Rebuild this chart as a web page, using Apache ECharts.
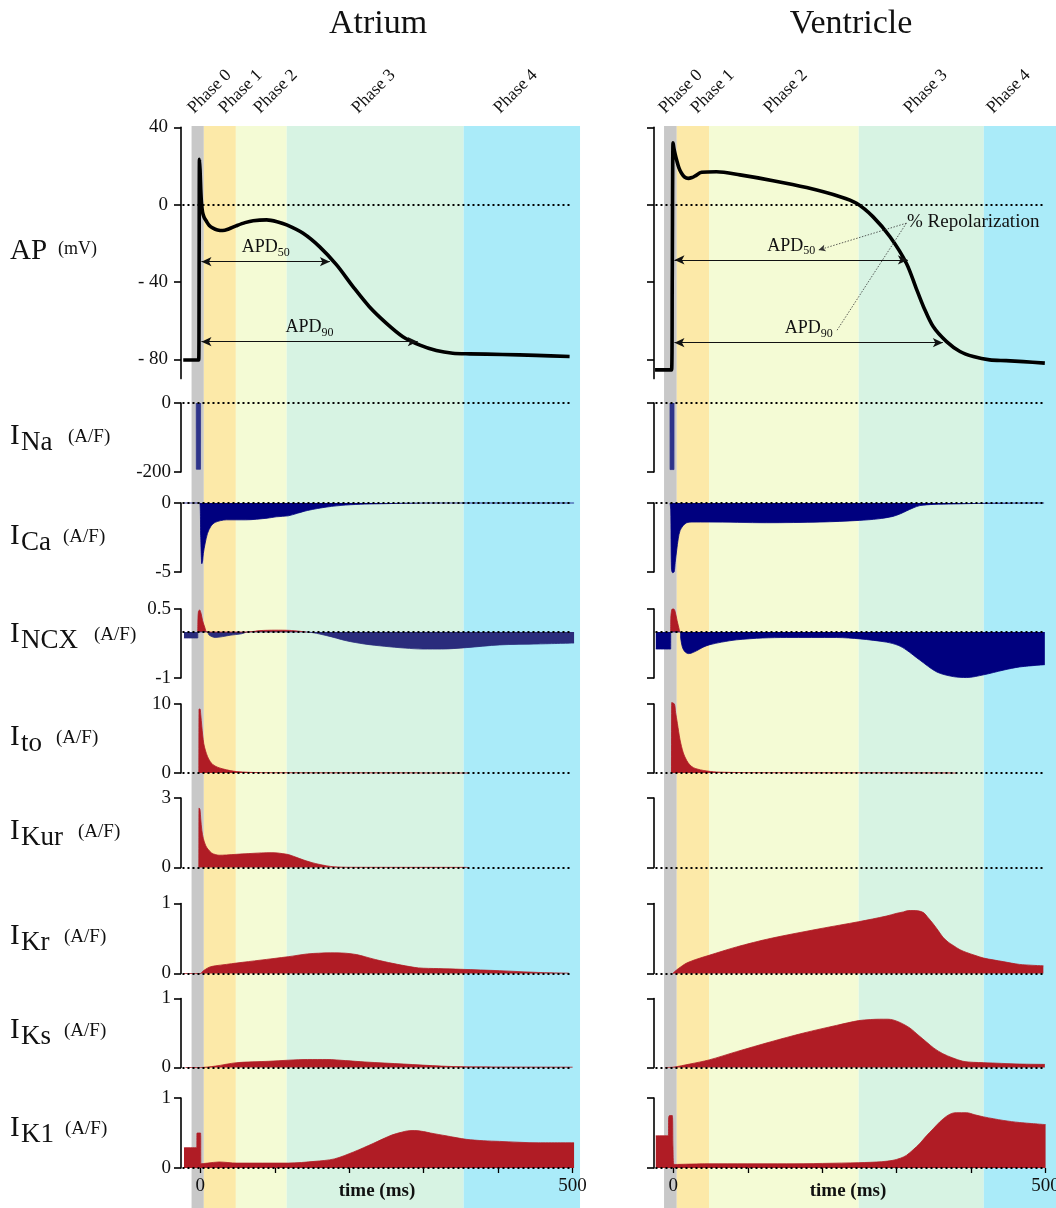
<!DOCTYPE html>
<html>
<head>
<meta charset="utf-8">
<script src="https://cdn.jsdelivr.net/npm/echarts@6/dist/echarts.min.js"></script>
<style>
html, body { margin: 0; padding: 0; background: #fff; }
#main { width: 1056px; height: 1208px; }
</style>
</head>
<body>
<div id="main"></div>
<script>
// 时间轴 (ms)
var xTicks = [0, 100, 200, 300, 400, 500];
var xTickLabels = [0, 500];

// 各期边界 (ms)
var atrPhaseEdges = [-11.8, 4.7, 47.7, 116, 353.7, 510];
var vtrPhaseEdges = [-12.5, 4.6, 47.9, 249, 417, 514];
var phaseNames = ['Phase 0', 'Phase 1', 'Phase 2', 'Phase 3', 'Phase 4'];

// 动作电位 [t, mV]
var atrAP = [[-23, -80.4], [-2.2, -80.4], [-1.7, -40], [-1.2, 23.5], [-0.4, 18], [0.5, 8], [1.6, 0.5], [3, -4], [5, -6.5],
    [8, -8.5], [12, -10.8], [17, -12.2], [23, -13.1], [30, -13.4], [38, -12.6], [48, -11], [60, -9.3], [71, -8.3],
    [89, -7.9], [103, -8.8], [116, -10.5], [138, -14.8], [160, -21.7], [183, -31.2], [205, -42.4], [227, -52.8],
    [250, -61.4], [272, -68.3], [295, -72.7], [317, -75.5], [339, -76.9], [362, -77.2], [406, -77.5], [451, -78], [496, -78.6]];
var vtrAP = [[-24.6, -85.5], [-2.4, -85.5], [-1.5, -40], [-0.4, 32], [0.8, 29], [2.5, 26], [4.5, 23], [7.5, 19], [11, 16.2],
    [15, 14.3], [20, 13.6], [25, 14], [29, 14.8], [38, 16.7], [58, 17], [89.5, 15.4], [134, 12.4], [179, 8.8], [224, 4.1],
    [246, 0.7], [268, -6.2], [291, -16.6], [313, -30.3], [327, -44.1], [336, -52.8], [349, -63.1], [367, -70.9],
    [385, -76], [403, -78.6], [425, -80.3], [447, -80.7], [470, -81.2], [499, -82]];

// 电流 [t, A/F]
var atrINa = [[-5.5, 0], [-5.4, -192], [0.2, -192], [0.3, 0]];
var vtrINa = [[-4.5, 0], [-4.4, -193], [0.8, -193], [0.9, 0]];

var atrICa = [[-23, 0], [-1, 0], [0.5, -2.5], [2, -4.4], [3, -4.2], [4, -3.66], [6.5, -2.9], [9.6, -2.2], [14, -1.7],
    [20, -1.4], [35, -1.22], [61, -1.22], [90, -1.1], [102, -1.0], [118, -0.93], [130, -0.75], [144, -0.54], [170, -0.29],
    [195, -0.15], [221, -0.08], [247, -0.05], [273, -0.02], [320, 0], [502, 0]];
var vtrICa = [[-4.5, 0], [-3.5, -0.5], [-2.5, -4.8], [-1, -5.05], [1, -5.0], [2.5, -4.3], [4.5, -3.4], [6.5, -2.6],
    [9, -2.0], [13, -1.65], [18, -1.43], [25, -1.38], [48, -1.38], [125, -1.43], [197, -1.38], [250, -1.26], [275, -1.15],
    [295, -0.97], [305, -0.78], [313, -0.58], [322, -0.36], [331, -0.19], [350, -0.1], [376, -0.07], [421, -0.02], [498, 0]];

// INCX: 外向(红)与内向(蓝)部分
var atrINCXout = [[-3.5, 0], [-3.2, 0.3], [-2.5, 0.45], [-1, 0.48], [1, 0.4], [3, 0.25], [6, 0.1], [9, 0],
    [64, 0], [80, 0.03], [100, 0.04], [120, 0.035], [142, 0]];
var atrINCXin = [[-22, -0.13], [-3.5, -0.13], [-3.4, 0], [9, 0], [12, -0.07], [20, -0.12], [30, -0.1], [40, -0.07],
    [55, -0.04], [64, 0], [142, 0], [170, -0.08], [196, -0.19], [220, -0.26], [247, -0.31], [275, -0.35], [299, -0.37],
    [324, -0.37], [357, -0.34], [402, -0.28], [454, -0.26], [502, -0.24]];
var vtrINCXout = [[-3.6, 0], [-3.4, 0.3], [-1.5, 0.5], [0.5, 0.5], [2.3, 0.45], [5, 0.25], [8, 0.05], [9, 0]];
var vtrINCXin = [[-23.6, -0.37], [-3.6, -0.37], [-3.5, 0], [9, 0], [10, -0.15], [12, -0.32], [15, -0.42], [20, -0.47],
    [24, -0.46], [31, -0.41], [40, -0.33], [48, -0.28], [65, -0.22], [85, -0.17], [120, -0.13], [152, -0.12], [219, -0.12],
    [251, -0.15], [286, -0.22], [302, -0.29], [313, -0.39], [331, -0.61], [354, -0.87], [376, -0.97], [394, -0.99],
    [417, -0.93], [443, -0.83], [465, -0.76], [499, -0.71]];

var atrIto = [[-2, 0], [-1.8, 9.2], [-0.5, 9.3], [0.5, 8.5], [2, 6.7], [4.5, 4.3], [7, 3.2], [9.6, 2.4], [13, 1.7],
    [17, 1.2], [23, 0.85], [30, 0.6], [40, 0.35], [49, 0.2], [65, 0.1], [82, 0.05], [120, 0.03], [200, 0.02], [300, 0.01], [360, 0]];
var vtrIto = [[-2.5, 0], [-2.2, 10.2], [1.4, 10], [3, 8.8], [5.4, 7.2], [9, 4.8], [13.4, 2.9], [18, 1.8], [22, 1.2],
    [27, 0.77], [33, 0.55], [40, 0.38], [50, 0.22], [58, 0.14], [80, 0.08], [107, 0.05], [200, 0.03], [300, 0.02], [380, 0]];

var atrIKur = [[-2, 0], [-1.8, 2.57], [-0.5, 2.5], [0.5, 2.1], [2, 1.6], [4, 1.25], [7, 0.96], [10, 0.8], [15, 0.63],
    [20, 0.56], [25, 0.53], [35, 0.54], [49, 0.57], [65, 0.6], [82, 0.63], [95, 0.64], [103, 0.63], [110, 0.6],
    [118, 0.56], [128, 0.45], [139, 0.32], [150, 0.21], [159, 0.14], [170, 0.07], [180, 0.03], [200, 0.01], [357, 0.005], [360, 0]];
var vtrIKur = [];

var atrIKr = [[-23, 0], [0, 0], [3, 0.03], [7, 0.06], [12, 0.09], [20, 0.11], [35, 0.13], [49, 0.15], [80, 0.19],
    [118, 0.24], [144, 0.28], [159, 0.29], [175, 0.295], [195, 0.29], [210, 0.27], [221, 0.24], [235, 0.2], [247, 0.17],
    [270, 0.12], [293, 0.08], [320, 0.07], [350, 0.06], [402, 0.04], [454, 0.015], [495, 0.005]];
var vtrIKr = [[-1, 0], [2, 0.03], [6.7, 0.07], [12, 0.11], [18, 0.15], [30, 0.2], [48, 0.26], [85, 0.38], [130, 0.5],
    [197, 0.64], [249, 0.74], [286, 0.82], [300, 0.86], [309, 0.88], [316, 0.9], [322, 0.9], [329, 0.895], [336, 0.87],
    [342, 0.8], [349, 0.71], [356, 0.61], [362, 0.52], [369, 0.45], [376, 0.4], [385, 0.34], [394, 0.3], [405, 0.26],
    [417, 0.22], [443, 0.17], [465, 0.13], [497, 0.11]];

var atrIKs = [[-20, 0], [0, 0], [20, 0.02], [49, 0.07], [92, 0.09], [144, 0.116], [170, 0.116], [195, 0.1], [221, 0.08],
    [273, 0.05], [324, 0.02], [357, 0.01], [500, 0.005]];
var vtrIKs = [[-11, 0], [0, 0.005], [22, 0.05], [48, 0.11], [85, 0.23], [130, 0.37], [175, 0.5], [219, 0.61], [249, 0.68],
    [265, 0.695], [277, 0.7], [288, 0.7], [295, 0.69], [305, 0.65], [318, 0.57], [330, 0.46], [340, 0.37], [350, 0.28],
    [362, 0.2], [375, 0.14], [389, 0.09], [403, 0.075], [417, 0.07], [465, 0.05], [499, 0.045]];

var atrIK1 = [[-22, 0.29], [-4.8, 0.29], [-4.5, 0.5], [0.3, 0.5], [0.8, 0.06], [10, 0.07], [25, 0.086], [49, 0.07],
    [118, 0.07], [154, 0.095], [180, 0.13], [206, 0.23], [232, 0.35], [257, 0.47], [270, 0.51], [278, 0.53], [288, 0.535],
    [300, 0.52], [309, 0.5], [330, 0.46], [357, 0.41], [380, 0.39], [402, 0.38], [454, 0.36], [502, 0.36]];
var vtrIK1 = [[-23.6, 0.46], [-6.7, 0.46], [-6.3, 0.72], [-5, 0.75], [-1.5, 0.75], [-0.5, 0.3], [1, 0.05], [48, 0.06],
    [152, 0.06], [249, 0.076], [280, 0.09], [295, 0.11], [305, 0.14], [313, 0.18], [322, 0.26], [331, 0.35], [340, 0.46],
    [349, 0.56], [358, 0.66], [367, 0.74], [374, 0.78], [380, 0.79], [394, 0.79], [405, 0.76], [417, 0.73], [443, 0.68],
    [465, 0.65], [500, 0.62]];

// APD 标注 [起点t, 终点t, mV]
var atrAPD50 = [1.5, 174, -29.5];
var atrAPD90 = [1.5, 292, -70.9];
var vtrAPD50 = [1.5, 315, -28.6];
var vtrAPD90 = [1.5, 362, -71.4];

// 颜色与字体
var FONT = '"Liberation Serif", "DejaVu Serif", serif';
var RED = '#b01c25';
var NAVY = '#00007f';
var phaseColors = ['#c8c8c8', '#fce9a8', '#f4fbd5', '#d7f3e3', '#aaebf9'];

var X_MIN = -26, X_MAX = 514;
var COLS = [{ left: 181, width: 402 }, { left: 654, width: 402 }];

var rows = [
    { key: 'AP', top: 127.3, height: 251.3, min: -90, max: 40, ticks: [40, 0, -40, -80], tickText: ['40', '0', '- 40', '- 80'], data: [[atrAP], [vtrAP]], color: [['#000'], ['#000']], margin: 13 },
    { key: 'Na', top: 403, height: 69, min: -200, max: 0, ticks: [0, -200], tickText: ['0', '-200'], data: [[atrINa], [vtrINa]], color: [['#2e348a'], ['#2e348a']], sharp: true },
    { key: 'Ca', top: 503, height: 69, min: -5, max: 0, ticks: [0, -5], tickText: ['0', '-5'], data: [[atrICa], [vtrICa]], color: [[NAVY], [NAVY]] },
    { key: 'NCX', top: 609, height: 69, min: -1, max: 0.5, ticks: [0.5, -1], tickText: ['0.5', '-1'], data: [[atrINCXin, atrINCXout], [vtrINCXin, vtrINCXout]], color: [['#2a2c7c', RED], [NAVY, RED]] },
    { key: 'to', top: 704, height: 69, min: 0, max: 10, ticks: [10, 0], tickText: ['10', '0'], data: [[atrIto], [vtrIto]], color: [[RED], [RED]] },
    { key: 'Kur', top: 798, height: 69.5, min: 0, max: 3, ticks: [3, 0], tickText: ['3', '0'], data: [[atrIKur], [vtrIKur]], color: [[RED], [RED]] },
    { key: 'Kr', top: 903.5, height: 70, min: 0, max: 1, ticks: [1, 0], tickText: ['1', '0'], data: [[atrIKr], [vtrIKr]], color: [[RED], [RED]] },
    { key: 'Ks', top: 998.5, height: 69, min: 0, max: 1, ticks: [1, 0], tickText: ['1', '0'], data: [[atrIKs], [vtrIKs]], color: [[RED], [RED]] },
    { key: 'K1', top: 1098, height: 70, min: 0, max: 1, ticks: [1, 0], tickText: ['1', '0'], data: [[atrIK1], [vtrIK1]], color: [[RED], [RED]] }
];

var grids = [], xAxes = [], yAxes = [], series = [], graphics = [];

// 背景相位色带
[atrPhaseEdges, vtrPhaseEdges].forEach(function (edges, ci) {
    grids.push({ left: COLS[ci].left, width: COLS[ci].width, top: 126, height: 1082, outerBoundsMode: 'none' });
    xAxes.push({ type: 'value', gridIndex: ci, min: X_MIN, max: X_MAX, show: false });
    yAxes.push({ type: 'value', gridIndex: ci, min: 0, max: 1, show: false });
    var areas = [];
    for (var i = 0; i < phaseColors.length; i++) {
        areas.push([{ xAxis: edges[i], itemStyle: { color: phaseColors[i], opacity: 1 } }, { xAxis: edges[i + 1] }]);
    }
    series.push({
        type: 'line', xAxisIndex: ci, yAxisIndex: ci, data: [], silent: true, z: 0,
        markArea: { silent: true, z: 0, data: areas }
    });
});

function zeroLine() {
    var st = { type: [2, 3], width: 1.8, color: '#000' };
    return [{ coord: [-24, 0], symbol: 'none', lineStyle: st, label: { show: false } },
        { coord: [496, 0], symbol: 'none', lineStyle: st, label: { show: false } }];
}

function apdLine(a, sub) {
    var st = { type: 'solid', width: 1, color: '#111' };
    var lb = {
        show: true, position: 'middle', distance: 3, formatter: '{a|APD}{b|' + sub + '}',
        rich: {
            a: { fontFamily: FONT, fontSize: 18, color: '#111', lineHeight: 22 },
            b: { fontFamily: FONT, fontSize: 12, color: '#111', lineHeight: 12, verticalAlign: 'bottom' }
        }
    };
    return [{ coord: [a[0], a[2]], symbol: 'arrow', symbolSize: [7, 10], lineStyle: st, label: lb },
        { coord: [a[1], a[2]], symbol: 'arrow', symbolSize: [7, 10], lineStyle: st, label: lb }];
}

function leader(from, to, arrow) {
    var st = { type: [1.5, 1.5], width: 0.8, color: '#333' };
    return [{ coord: from, symbol: 'none', lineStyle: st, label: { show: false } },
        { coord: to, symbol: arrow ? 'arrow' : 'none', symbolSize: [5, 7], lineStyle: st, label: { show: false } }];
}

rows.forEach(function (row, ri) {
    COLS.forEach(function (c, ci) {
        var gi = grids.length;
        var isBottom = ri === rows.length - 1;
        grids.push({ left: c.left, width: c.width, top: row.top, height: row.height, outerBoundsMode: 'none' });
        xAxes.push({
            type: 'value', gridIndex: gi, min: X_MIN, max: X_MAX, show: isBottom, z: 6,
            axisLine: { show: false, onZero: false },
            splitLine: { show: false },
            axisTick: { show: true, customValues: xTicks, length: 5, lineStyle: { color: '#000', width: 1.3 } },
            axisLabel: { customValues: xTickLabels, fontFamily: FONT, fontSize: 19, color: '#111', margin: 9 }
        });
        yAxes.push({
            type: 'value', gridIndex: gi, min: row.min, max: row.max, z: 6,
            axisLine: { show: true, onZero: false, lineStyle: { color: '#000', width: 1.6 } },
            axisTick: { show: true, inside: false, length: 7, customValues: row.ticks, lineStyle: { color: '#000', width: 1.6 } },
            axisLabel: {
                show: ci === 0, customValues: row.ticks, fontFamily: FONT, fontSize: 19, color: '#111', margin: row.margin || 10,
                formatter: function (v) { return row.tickText[row.ticks.indexOf(v)]; }
            },
            splitLine: { show: false }
        });

        row.data[ci].forEach(function (d, k) {
            var col = row.color[ci][k];
            var s = {
                type: 'line', xAxisIndex: gi, yAxisIndex: gi, data: d, symbol: 'none',
                smooth: row.sharp ? false : 0.3, clip: false, z: 3,
                lineStyle: { color: col, width: 0.8 },
                itemStyle: { color: col },
                areaStyle: { color: col, opacity: 1 }
            };
            if (k === 0) {
                var marks = [zeroLine()];
                s.markLine = { silent: true, symbol: 'none', animation: false, data: marks };
                if (row.key === 'AP') {
                    delete s.areaStyle;
                    s.lineStyle = { color: '#000', width: 3.6, join: 'round' };
                    if (ci === 0) {
                        marks.push(apdLine(atrAPD50, '50'), apdLine(atrAPD90, '90'));
                    } else {
                        marks.push(apdLine(vtrAPD50, '50'), apdLine(vtrAPD90, '90'));
                        marks.push(leader([313, -9.6], [195, -23.5], true), leader([313, -9.6], [219, -65.5], false));
                    }
                }
            }
            series.push(s);
        });
    });
});

function txt(x, y, text, font, extra) {
    var st = { text: text, font: font + ' ' + FONT, fill: '#111', verticalAlign: 'middle' };
    for (var k in extra || {}) st[k] = extra[k];
    return { type: 'text', x: x, y: y, z: 10, style: st };
}

// 标题
graphics.push(txt(378, 24, 'Atrium', '34px', { align: 'center' }));
graphics.push(txt(851, 24, 'Ventricle', '34px', { align: 'center' }));

// 相位标签
var atrPhaseX = [197, 228, 263, 361, 503];
var vtrPhaseX = [668, 700, 773, 913, 996];
[atrPhaseX, vtrPhaseX].forEach(function (xs) {
    xs.forEach(function (x, i) {
        var g = txt(x, 117, phaseNames[i], '17.5px', { align: 'left', verticalAlign: 'bottom' });
        g.rotation = Math.PI / 4;
        graphics.push(g);
    });
});

// 行标签
var rowLabelY = [251, 436, 536, 634, 737, 831, 936, 1030, 1128];
var unitX = [58, 68, 63, 94, 56, 78, 64, 64, 65];
rows.forEach(function (row, ri) {
    var cy = rowLabelY[ri];
    if (row.key === 'AP') {
        graphics.push(txt(10, cy, 'AP', '29px'));
        graphics.push(txt(unitX[ri], cy - 2, '(mV)', '18px'));
        return;
    }
    graphics.push(txt(10, cy, 'I', '29px'));
    graphics.push(txt(21, cy + 7, row.key, '27px'));
    graphics.push(txt(unitX[ri], cy + 1, '(A/F)', '19px'));
});

// 坐标轴名与注释
graphics.push(txt(377, 1191, 'time (ms)', 'bold 19px', { align: 'center' }));
graphics.push(txt(848, 1191, 'time (ms)', 'bold 19px', { align: 'center' }));
graphics.push(txt(907, 222, '% Repolarization', '19px'));

var myChart = echarts.init(document.getElementById('main'), null, { renderer: 'canvas' });
myChart.setOption({
    animation: false,
    backgroundColor: '#fff',
    grid: grids,
    xAxis: xAxes,
    yAxis: yAxes,
    series: series,
    graphic: graphics
});
</script>
</body>
</html>
